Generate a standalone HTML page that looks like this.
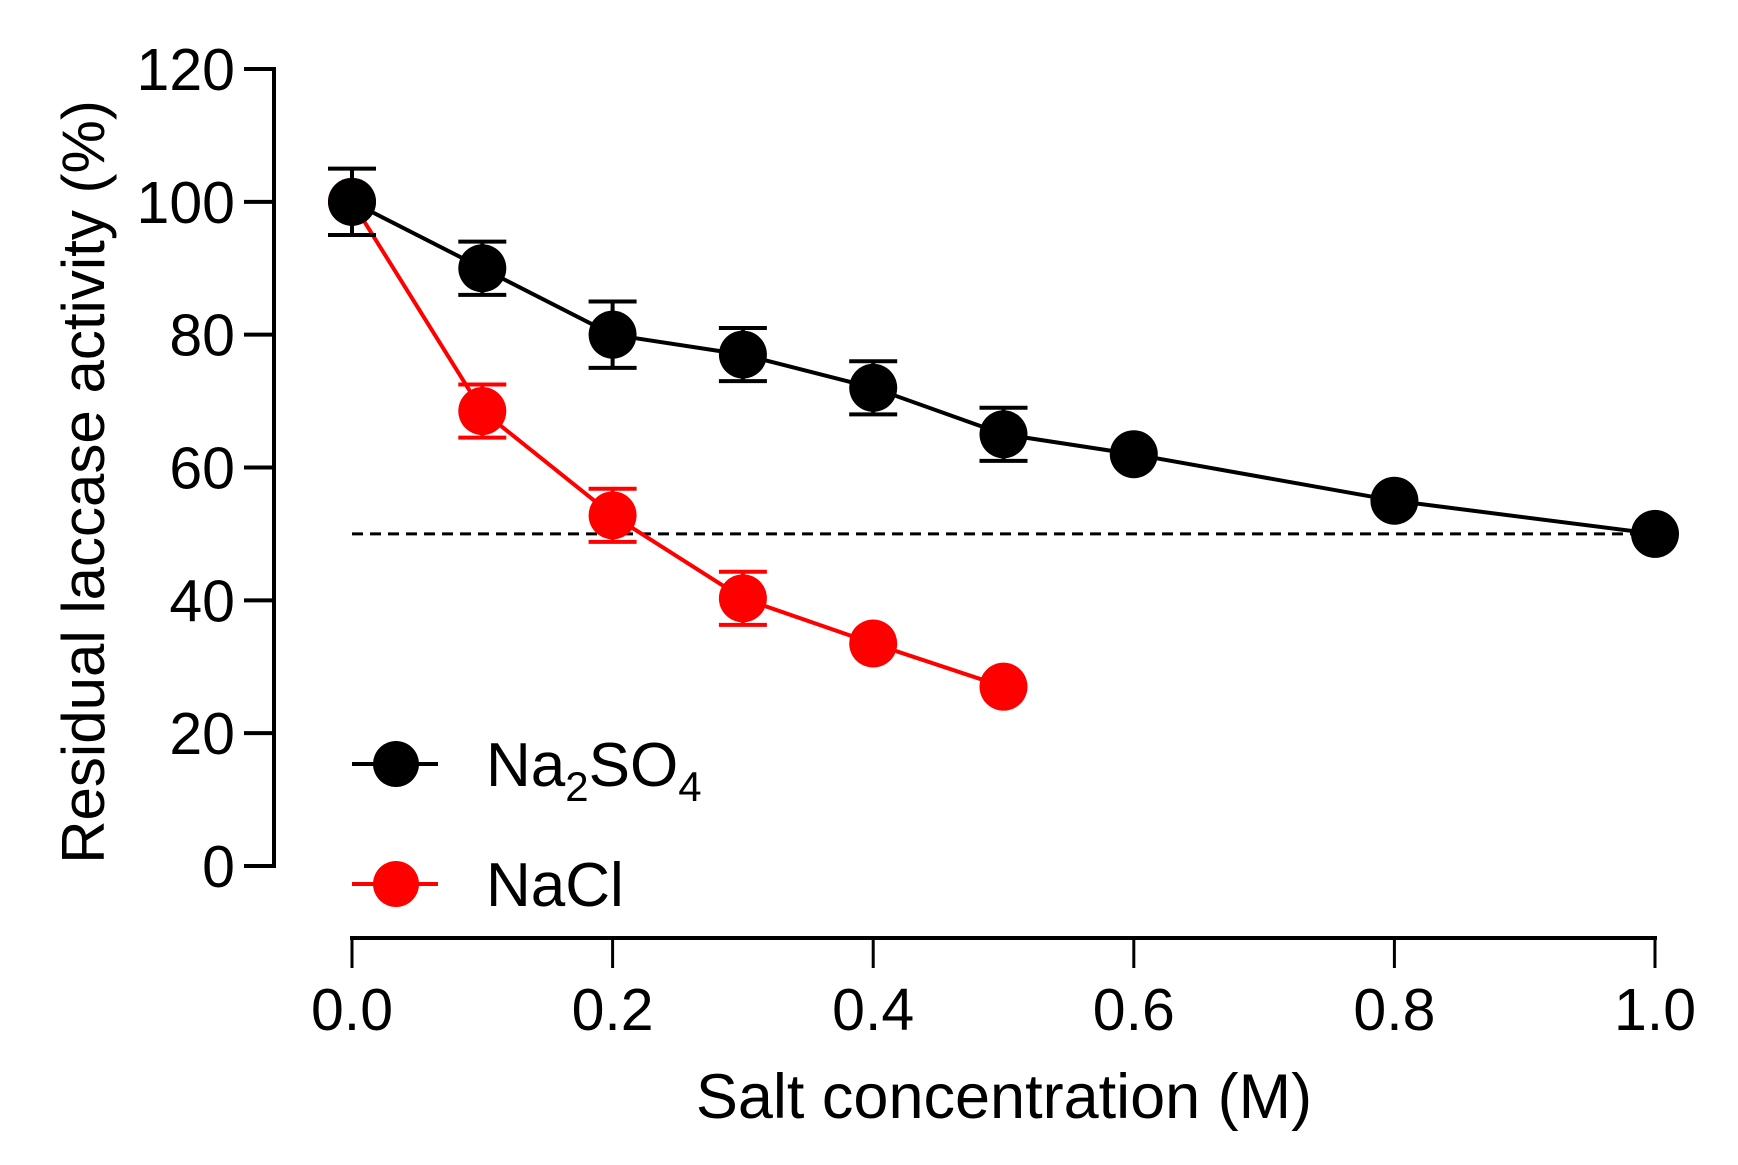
<!DOCTYPE html>
<html><head><meta charset="utf-8"><style>
html,body{margin:0;padding:0;background:#fff;}
svg{display:block;font-family:"Liberation Sans",Arial,sans-serif;}
</style></head><body>
<svg id="chart" width="1738" height="1165" viewBox="0 0 1738 1165" xmlns="http://www.w3.org/2000/svg">
<rect width="1738" height="1165" fill="#fff"/>
<g id="axes"></g>
<g id="plot"></g>
<g id="legend"></g>
<text x="1004" y="1118" font-size="63" text-anchor="middle">Salt concentration (M)</text>
<text transform="translate(104,482) rotate(-90)" font-size="60" text-anchor="middle">Residual laccase activity (%)</text>
</svg>
<script>
const xTicks = [0, 0.2, 0.4, 0.6, 0.8, 1.0];
const xTickLabels = ["0.0", "0.2", "0.4", "0.6", "0.8", "1.0"];
const yTicks = [0, 20, 40, 60, 80, 100, 120];
const yTickLabels = ["0", "20", "40", "60", "80", "100", "120"];
const na2so4X = [0, 0.1, 0.2, 0.3, 0.4, 0.5, 0.6, 0.8, 1.0];
const na2so4Y = [100, 90, 80, 77, 72, 65, 62, 55, 50];
const na2so4Err = [5, 4, 5, 4, 4, 4, 0, 0, 0];
const naclX = [0, 0.1, 0.2, 0.3, 0.4, 0.5];
const naclY = [100, 68.5, 52.8, 40.3, 33.5, 27];
const naclErr = [0, 4, 4, 4, 0, 0];
const refLine = [50];

const NS = "http://www.w3.org/2000/svg";
const X0 = 352, X1 = 1655, Y0 = 866, Y1 = 69;
function sx(v){ return X0 + (v - 0) / (1 - 0) * (X1 - X0); }
function sy(v){ return Y0 - (v - 0) / (120 - 0) * (Y0 - Y1); }
function mk(tag, attrs, parent){
  const e = document.createElementNS(NS, tag);
  for (const k in attrs) e.setAttribute(k, attrs[k]);
  parent.appendChild(e);
  return e;
}
const axes = document.getElementById('axes');
const plot = document.getElementById('plot');
const legend = document.getElementById('legend');

let yl = mk('line', {x1:274, y1:sy(120)-2, x2:274, y2:sy(0)+2, stroke:'#000','stroke-width':4}, axes);


yTicks.forEach((t, i) => {
  const tk = mk('line', {x1:244, y1:sy(t), x2:274, y2:sy(t), stroke:'#000','stroke-width':4}, axes);
  
  
  const tx = mk('text', {x:235, y:sy(t)+21, 'font-size':59, 'text-anchor':'end'}, axes);
  tx.textContent = yTickLabels[i];
  
  
});
let xl = mk('line', {x1:X0-2, y1:938, x2:X1+2, y2:938, stroke:'#000','stroke-width':4}, axes);


xTicks.forEach((t, i) => {
  const tk = mk('line', {x1:sx(t), y1:938, x2:sx(t), y2:968, stroke:'#000','stroke-width':3}, axes);
  
  
  const tx = mk('text', {x:sx(t), y:1030, 'font-size':59, 'text-anchor':'middle'}, axes);
  tx.textContent = xTickLabels[i];
  
  
});
const ref = mk('line', {x1:sx(0), y1:sy(refLine[0]), x2:sx(1), y2:sy(refLine[0]), stroke:'#000','stroke-width':3,'stroke-dasharray':'11 7'}, plot);



function series(xs, ys, es, color, name){
  const pts = xs.map((x, i) => sx(x) + ',' + sy(ys[i])).join(' ');
  const pl = mk('polyline', {points:pts, fill:'none', stroke:color, 'stroke-width':4}, plot);
  
  
  xs.forEach((x, i) => {
    if (es[i] > 0) {
      const cx = sx(x), t = sy(ys[i] + es[i]), b = sy(ys[i] - es[i]);
      const g = mk('path', {d:`M${cx},${t}V${b}M${cx-24},${t}H${cx+24}M${cx-24},${b}H${cx+24}`, stroke:color, 'stroke-width':4, fill:'none'}, plot);
      
      
    }
  });
  xs.forEach((x, i) => {
    const c = mk('circle', {cx:sx(x), cy:sy(ys[i]), r:24, fill:color}, plot);
    
    
  });
}
series(naclX, naclY, naclErr, '#ff0000', 'nacl');
series(na2so4X, na2so4Y, na2so4Err, '#000000', 'na2so4');

function legendEntry(y, color, name, html){
  const g = mk('g', {}, legend);
  
  
  mk('line', {x1:352, y1:y, x2:438, y2:y, stroke:color, 'stroke-width':4}, g);
  mk('circle', {cx:396, cy:y, r:23, fill:color}, g);
  const t = mk('text', {x:486, y:y+22, 'font-size':62}, g);
  t.innerHTML = html;
}
legendEntry(764, '#000', 'na2so4', 'Na<tspan font-size="42" dy="15">2</tspan><tspan dy="-15">SO</tspan><tspan font-size="42" dy="15">4</tspan>');
legendEntry(884, '#ff0000', 'nacl', 'NaCl');
</script>
</body></html>
